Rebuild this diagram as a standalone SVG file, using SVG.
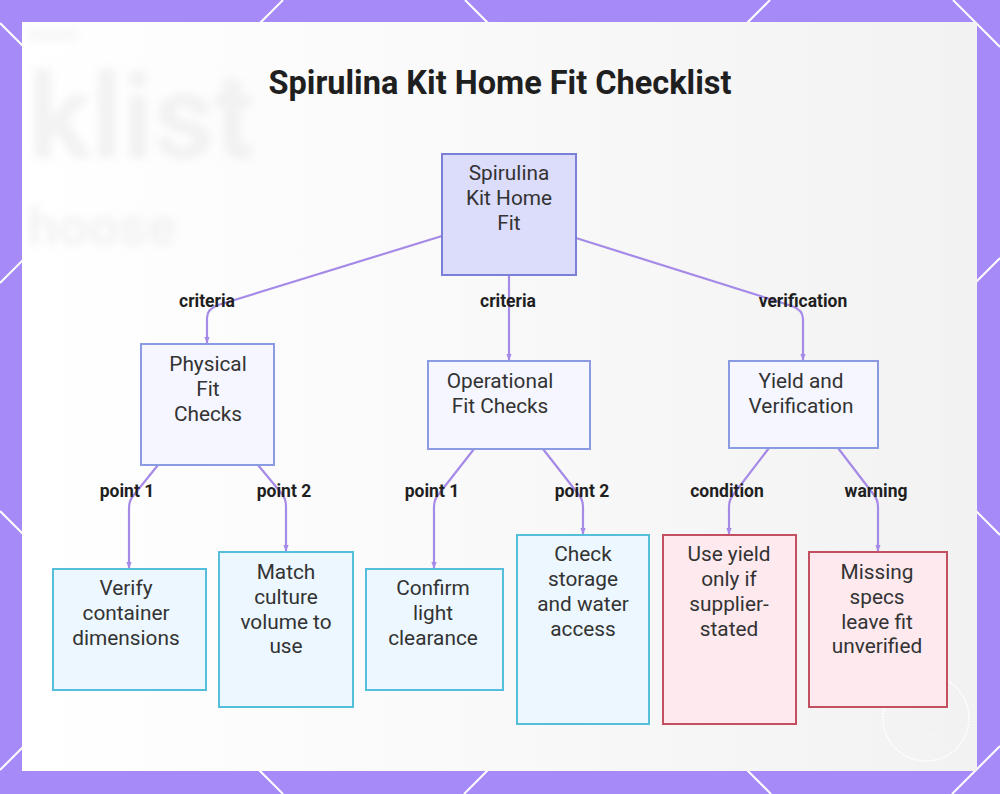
<svg xmlns="http://www.w3.org/2000/svg" width="1000" height="794" viewBox="0 0 1000 794">
<defs>
<style>
.frame-line{stroke:#ffffff;stroke-width:2;fill:none}
.title{font-family:Roboto,"Liberation Sans",sans-serif;font-weight:700;font-size:32.5px;fill:#1f1f1f;text-anchor:middle}
.ntext{font-family:Roboto,"Liberation Sans",sans-serif;font-size:20.8px;fill:#333333;text-anchor:middle}
.elabel{font-family:Roboto,"Liberation Sans",sans-serif;font-weight:700;font-size:17.5px;fill:#1f1f1f;text-anchor:middle}
.edge{stroke:#a68ae8;stroke-width:2.2;fill:none}
.root{fill:#dcdcfb;stroke:#7b7fd8;stroke-width:2}
.mid{fill:#f5f6ff;stroke:#8a9ae3;stroke-width:2}
.leaf{fill:#ecf7ff;stroke:#55bedb;stroke-width:2}
.warn{fill:#fde9ee;stroke:#c25060;stroke-width:2}
.bg{font-family:Roboto,"Liberation Sans",sans-serif;font-weight:700;fill:#e6e6e6}
</style>
<marker id="arr" viewBox="0 0 10 10" refX="9" refY="5" markerWidth="3" markerHeight="3" orient="auto">
<path d="M0,1 L10,5 L0,9 z" fill="#a68ae8"/>
</marker>
<filter id="blur" x="-20%" y="-20%" width="140%" height="140%"><feGaussianBlur stdDeviation="4"/></filter>
<linearGradient id="pg" x1="0" y1="0" x2="1" y2="0">
<stop offset="0" stop-color="#ffffff"/>
<stop offset="0.5" stop-color="#f9f9f9"/>
<stop offset="1" stop-color="#f2f2f2"/>
</linearGradient>
</defs>
<rect x="0" y="0" width="1000" height="794" fill="#a68af8"/>
<g id="frame-lines">
<line class="frame-line" x1="0" y1="283" x2="283" y2="0"/>
<line class="frame-line" x1="0" y1="770" x2="770" y2="0"/>
<line class="frame-line" x1="464" y1="794" x2="1000" y2="258"/>
<line class="frame-line" x1="952" y1="794" x2="1000" y2="746"/>
<line class="frame-line" x1="0" y1="23" x2="771" y2="794"/>
<line class="frame-line" x1="0" y1="511" x2="283" y2="794"/>
<line class="frame-line" x1="465" y1="0" x2="1000" y2="535"/>
<line class="frame-line" x1="953" y1="0" x2="1000" y2="47"/>
</g>
<rect x="22" y="22" width="955" height="749" fill="url(#pg)"/>
<g id="background" filter="url(#blur)" opacity="0.5">
<text class="bg" x="28" y="158" font-size="118">klist</text>
<text class="bg" x="28" y="245" font-size="54">hoose</text>
<rect x="28" y="30" width="50" height="10" fill="#eeeeee"/>
</g>
<circle cx="926" cy="718" r="43" fill="none" stroke="#ffffff" stroke-width="1.5" stroke-dasharray="2 1"/>
<rect x="906" y="700" width="36" height="34" rx="4" fill="none" stroke="#f4f4f4" stroke-width="2"/>

<text class="title" x="500" y="94">Spirulina Kit Home Fit Checklist</text>

<g id="connectors">
<path class="edge" d="M442,236 L218,305 Q207,309 207,318 L207,343" marker-end="url(#arr)"/>
<path class="edge" d="M509,275 L509,360" marker-end="url(#arr)"/>
<path class="edge" d="M576,238 L792,306 Q803,310 803,319 L803,360" marker-end="url(#arr)"/>
<path class="edge" d="M158,465 L133,496 Q129,501 129,508 L129,568" marker-end="url(#arr)"/>
<path class="edge" d="M258,465 L282,494 Q286,499 286,506 L286,551" marker-end="url(#arr)"/>
<path class="edge" d="M474,449 L438,495 Q434,500 434,507 L434,568" marker-end="url(#arr)"/>
<path class="edge" d="M543,449 L579,495 Q583,500 583,507 L583,534" marker-end="url(#arr)"/>
<path class="edge" d="M769,448 L733,495 Q729,500 729,507 L729,534" marker-end="url(#arr)"/>
<path class="edge" d="M838,448 L874,495 Q878,500 878,507 L878,551" marker-end="url(#arr)"/>
<g id="edge-labels">
<text class="elabel" x="207" y="307">criteria</text>
<text class="elabel" x="508" y="307">criteria</text>
<text class="elabel" x="803" y="307">verification</text>
<text class="elabel" x="127" y="497">point 1</text>
<text class="elabel" x="284" y="497">point 2</text>
<text class="elabel" x="432" y="497">point 1</text>
<text class="elabel" x="582" y="497">point 2</text>
<text class="elabel" x="727" y="497">condition</text>
<text class="elabel" x="876" y="497">warning</text>
</g>
</g>

<g id="node-root">
<rect class="root" x="442" y="154" width="134" height="121"/>
<text class="ntext" x="509" y="180">Spirulina</text>
<text class="ntext" x="509" y="205">Kit Home</text>
<text class="ntext" x="509" y="230">Fit</text>
</g>
<g id="node-physical">
<rect class="mid" x="141" y="344" width="133" height="121"/>
<text class="ntext" x="208" y="371">Physical</text>
<text class="ntext" x="208" y="396">Fit</text>
<text class="ntext" x="208" y="421">Checks</text>
</g>
<g id="node-operational">
<rect class="mid" x="428" y="361" width="162" height="88"/>
<text class="ntext" x="500" y="388">Operational</text>
<text class="ntext" x="500" y="413">Fit Checks</text>
</g>
<g id="node-yield">
<rect class="mid" x="729" y="361" width="149" height="87"/>
<text class="ntext" x="801" y="388">Yield and</text>
<text class="ntext" x="801" y="413">Verification</text>
</g>
<g id="node-verify">
<rect class="leaf" x="53" y="569" width="153" height="121"/>
<text class="ntext" x="126" y="595">Verify</text>
<text class="ntext" x="126" y="620">container</text>
<text class="ntext" x="126" y="645">dimensions</text>
</g>
<g id="node-match">
<rect class="leaf" x="219" y="552" width="134" height="155"/>
<text class="ntext" x="286" y="579">Match</text>
<text class="ntext" x="286" y="604">culture</text>
<text class="ntext" x="286" y="629">volume to</text>
<text class="ntext" x="286" y="653">use</text>
</g>
<g id="node-confirm">
<rect class="leaf" x="366" y="569" width="137" height="121"/>
<text class="ntext" x="433" y="595">Confirm</text>
<text class="ntext" x="433" y="620">light</text>
<text class="ntext" x="433" y="645">clearance</text>
</g>
<g id="node-check">
<rect class="leaf" x="517" y="535" width="132" height="189"/>
<text class="ntext" x="583" y="561">Check</text>
<text class="ntext" x="583" y="586">storage</text>
<text class="ntext" x="583" y="611">and water</text>
<text class="ntext" x="583" y="636">access</text>
</g>
<g id="node-use-yield">
<rect class="warn" x="663" y="535" width="133" height="189"/>
<text class="ntext" x="729" y="561">Use yield</text>
<text class="ntext" x="729" y="586">only if</text>
<text class="ntext" x="729" y="611">supplier-</text>
<text class="ntext" x="729" y="636">stated</text>
</g>
<g id="node-missing">
<rect class="warn" x="809" y="552" width="138" height="155"/>
<text class="ntext" x="877" y="579">Missing</text>
<text class="ntext" x="877" y="604">specs</text>
<text class="ntext" x="877" y="629">leave fit</text>
<text class="ntext" x="877" y="653">unverified</text>
</g>
</svg>
